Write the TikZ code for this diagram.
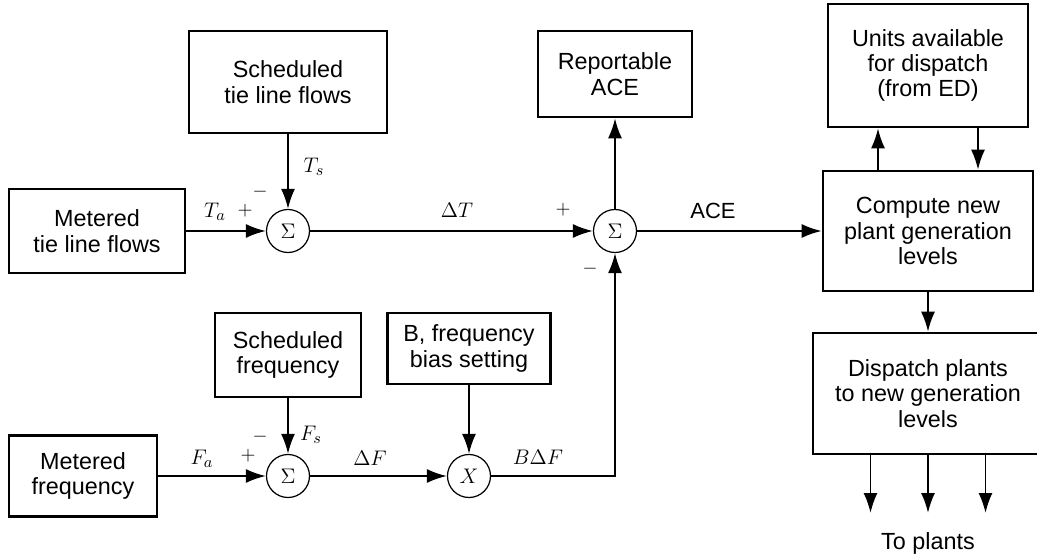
\documentclass[tikz,border=0pt]{standalone}
\usepackage{fontspec}
\setmainfont{Liberation Sans}
\usetikzlibrary{arrows.meta}

\begin{document}
\begin{tikzpicture}[
  x=1cm,
  y=1cm,
  >=Latex,
  block/.style={
    draw=black,
    fill=white,
    line width=1.5pt,
    align=center,
    inner sep=2pt,
    font=\fontsize{13.3}{14.4}\selectfont
  },
  junction/.style={
    circle,
    draw=black,
    line width=0.7pt,
    minimum size=0.86cm,
    inner sep=0pt,
    font=\fontsize{12}{13}\selectfont
  },
  flow/.style={
    -{Latex[length=4mm,width=2.8mm]},
    line width=1.1pt
  },
  sig/.style={inner sep=0pt, font=\fontsize{13}{14}\selectfont},
  sign/.style={inner sep=0pt, font=\fontsize{11}{12}\selectfont}
]
\useasboundingbox (0,0) rectangle (20.74,11.16);

% tie line branch
\node[block, minimum width=3.96cm, minimum height=2.04cm] (tsched) at (5.76,9.52)
  {Scheduled\\tie line flows};
\node[block, minimum width=3.52cm, minimum height=1.68cm] (tmeter) at (1.94,6.54)
  {Metered\\tie line flows};
\node[junction] (sumT) at (5.76,6.54) {$\Sigma$};

% ACE summing point
\node[junction] (sumA) at (12.30,6.54) {$\Sigma$};
\node[block, minimum width=3.08cm, minimum height=1.72cm] (rep) at (12.30,9.68)
  {Reportable\\ACE};

% plant side
\node[block, minimum width=4.00cm, minimum height=2.46cm] (units) at (18.56,9.85)
  {Units available\\for dispatch\\(from ED)};
\node[block, minimum width=4.20cm, minimum height=2.40cm] (compute) at (18.56,6.54)
  {Compute new\\plant generation\\levels};
\node[block, minimum width=4.60cm, minimum height=2.42cm] (dispatch) at (18.56,3.29)
  {Dispatch plants\\to new generation\\levels};
\coordinate (out) at (18.56,0.90);
\node[block, draw=none, fill=none] (plants) at (18.56,0.30) {To plants};

% frequency branch
\node[block, minimum width=2.92cm, minimum height=1.68cm] (fsched) at (5.76,4.06)
  {Scheduled\\frequency};
\node[block, minimum width=3.26cm, minimum height=1.42cm] (bias) at (9.38,4.19)
  {B, frequency\\bias setting};
\node[block, minimum width=2.96cm, minimum height=1.62cm] (fmeter) at (1.66,1.64)
  {Metered\\frequency};
\node[junction] (sumF) at (5.76,1.64) {$\Sigma$};
\node[junction] (mult) at (9.38,1.64) {$X$};

% connectors
\draw[flow] (tmeter) -- (sumT);
\draw[flow] (tsched) -- (sumT);
\draw[flow] (sumT) -- (sumA);
\draw[flow] (sumA) -- (rep);
\draw[flow] (sumA) -- (compute);
\draw[flow] ([xshift=-1cm]compute.north) -- ([xshift=-1cm]units.south);
\draw[flow] ([xshift=1cm]units.south) -- ([xshift=1cm]compute.north);
\draw[flow] (compute) -- (dispatch);
\foreach \dx in {-1.15,0,1.15} {
  \draw[flow] ([xshift=\dx cm]dispatch.south) -- ([xshift=\dx cm]out);
}
\draw[flow] (fmeter) -- (sumF);
\draw[flow] (fsched) -- (sumF);
\draw[flow] (sumF) -- (mult);
\draw[flow] (bias) -- (mult);
\draw[flow] (mult) -| (sumA);

% signal labels and signs
\node[sig] (lblTs) at (6.28,7.82) {$T_s$};
\node[sig] (lblTa) at (4.30,6.92) {$T_a$};
\node[sign] (plusTa) at (4.90,6.94) {$+$};
\node[sign] (minusTs) at (5.20,7.32) {$-$};
\node[sig] (lblDT) at (9.14,6.96) {$\Delta T$};
\node[sign] (plusDT) at (11.26,6.96) {$+$};
\node[block, draw=none, fill=none, inner sep=0pt, font=\fontsize{12.5}{14}\selectfont] (lblACE) at (14.26,6.94) {ACE};
\node[sign] (minusBF) at (11.80,5.78) {$-$};
\node[sig] (lblFa) at (4.04,1.98) {$F_a$};
\node[sign] (plusFa) at (4.96,2.04) {$+$};
\node[sign] (minusFs) at (5.20,2.42) {$-$};
\node[sig] (lblFs) at (6.22,2.46) {$F_s$};
\node[sig] (lblDF) at (7.40,2.00) {$\Delta F$};
\node[sig] (lblBDF) at (10.76,2.02) {$B\Delta F$};

\end{tikzpicture}
\end{document}
